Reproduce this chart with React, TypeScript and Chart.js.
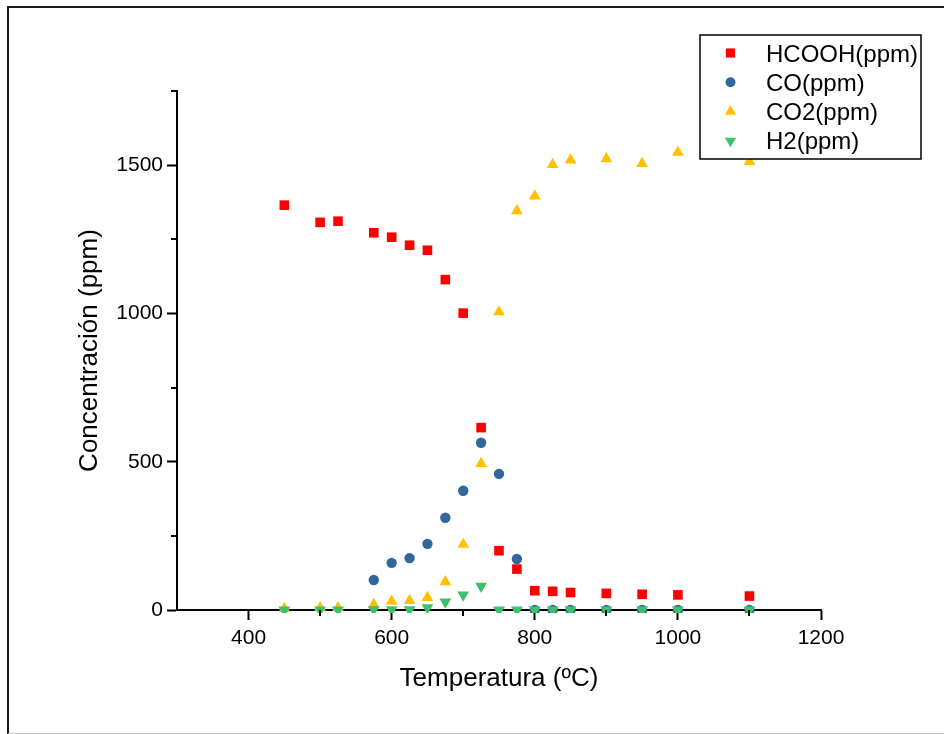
import React, { useEffect, useRef } from 'react';
import { Chart, registerables } from 'chart.js';

Chart.register(...registerables);

// ---- data ----
const hcoohX = [450, 500, 525, 575, 600, 625, 650, 675, 700, 725, 750, 775, 800, 825, 850, 900, 950, 1000, 1100];
const hcoohY = [1365, 1307, 1311, 1272, 1257, 1230, 1213, 1114, 1001, 615, 200, 138, 65, 63, 59, 56, 53, 51, 47];

const coX = [575, 600, 625, 650, 675, 700, 725, 750, 775, 800, 825, 850, 900, 950, 1000, 1100];
const coY = [101, 159, 175, 223, 311, 402, 564, 459, 172, 0, 0, 0, 0, 0, 0, 0];

const co2X = [450, 500, 525, 575, 600, 625, 650, 675, 700, 725, 750, 775, 800, 825, 850, 900, 950, 1000, 1100];
const co2Y = [5, 7, 7, 18, 29, 32, 42, 95, 221, 494, 1005, 1346, 1396, 1502, 1517, 1521, 1505, 1543, 1512];

const h2X = [450, 500, 525, 575, 600, 625, 650, 675, 700, 725, 750, 775, 800, 825, 850, 900, 950, 1000, 1100];
const h2Y = [0, 0, 0, 1, 1, 1, 8, 27, 51, 80, 0, 0, 0, 0, 0, 0, 0, 0, 0];

const seriesNames = ['HCOOH(ppm)', 'CO(ppm)', 'CO2(ppm)', 'H2(ppm)'];
const seriesColors = ['#FF0000', '#33669A', '#FFC000', '#3DC171'];

const xMajorTicks = [400, 600, 800, 1000, 1200];
const xMinorTicks = [500, 700, 900, 1100];
const yMajorTicks = [0, 500, 1000, 1500];
const yMinorTicks = [250, 750, 1250, 1750];

const xAxisTitle = 'Temperatura (ºC)';
const yAxisTitle = 'Concentración (ppm)';

const FONT = '"Liberation Sans", Arial, sans-serif';

const toPoints = (xs: number[], ys: number[]) => xs.map((x, i) => ({ x, y: ys[i] }));

function drawMarker(ctx: CanvasRenderingContext2D, kind: string, x: number, y: number, r: number, color: string) {
  ctx.save();
  ctx.fillStyle = color;
  ctx.beginPath();
  if (kind === 'rect') {
    const s = Math.SQRT1_2 * r;
    ctx.rect(x - s, y - s, 2 * s, 2 * s);
  } else if (kind === 'circle') {
    ctx.arc(x, y, r, 0, Math.PI * 2);
  } else {
    const dir = kind === 'down' ? -1 : 1;
    ctx.moveTo(x, y - dir * r);
    ctx.lineTo(x + 0.866 * r, y + dir * 0.5 * r);
    ctx.lineTo(x - 0.866 * r, y + dir * 0.5 * r);
    ctx.closePath();
  }
  ctx.fill();
  ctx.restore();
}

const markerKinds = ['rect', 'circle', 'up', 'down'];
const markerRadii = [6.8, 5.2, 6.8, 6.8];

const extrasPlugin = {
  id: 'extras',
  afterDraw(chart: any) {
    const ctx: CanvasRenderingContext2D = chart.ctx;
    const xs = chart.scales.x;
    const ys = chart.scales.y;
    const area = chart.chartArea;
    ctx.save();
    ctx.strokeStyle = '#000';
    ctx.lineWidth = 2;
    ctx.beginPath();
    xMinorTicks.forEach((v) => {
      const px = Math.round(xs.getPixelForValue(v));
      ctx.moveTo(px, area.bottom);
      ctx.lineTo(px, area.bottom + 6);
    });
    yMinorTicks.forEach((v) => {
      const py = Math.round(ys.getPixelForValue(v));
      ctx.moveTo(area.left - 6, py);
      ctx.lineTo(area.left, py);
    });
    ctx.stroke();

    // legend
    const bx = 700, by = 35, bw = 221, bh = 124;
    ctx.fillStyle = '#fff';
    ctx.fillRect(bx, by, bw, bh);
    ctx.lineWidth = 1.5;
    ctx.strokeStyle = '#000';
    ctx.strokeRect(bx, by, bw, bh);
    ctx.font = `24px ${FONT}`;
    ctx.textBaseline = 'alphabetic';
    ctx.textAlign = 'left';
    seriesNames.forEach((name, i) => {
      const cy = 53 + i * 29.3;
      drawMarker(ctx, markerKinds[i], 730.5, cy, markerRadii[i] * 0.95, seriesColors[i]);
      ctx.fillStyle = '#000';
      ctx.fillText(name, 766, cy + 8.5);
    });
    ctx.restore();
  },
};

export default function App() {
  const ref = useRef<HTMLCanvasElement | null>(null);

  useEffect(() => {
    if (!ref.current) return;
    const mk = (i: number, xs: number[], ys: number[], style: string, rotation: number, order: number) => ({
      label: seriesNames[i],
      data: toPoints(xs, ys),
      pointStyle: style,
      rotation,
      pointRadius: markerRadii[i],
      pointHoverRadius: markerRadii[i],
      pointBackgroundColor: seriesColors[i],
      pointBorderWidth: 0,
      borderColor: seriesColors[i],
      backgroundColor: seriesColors[i],
      showLine: false,
      order,
      clip: { left: 10, top: 10, right: 10, bottom: 3 },
    });
    const chart = new Chart(ref.current, {
      type: 'scatter',
      data: {
        datasets: [
          mk(0, hcoohX, hcoohY, 'rect', 0, 4),
          mk(1, coX, coY, 'circle', 0, 3),
          mk(2, co2X, co2Y, 'triangle', 0, 2),
          mk(3, h2X, h2Y, 'triangle', 180, 1),
        ] as any,
      },
      options: {
        responsive: false,
        devicePixelRatio: 1,
        animation: false,
        layout: { padding: { left: 0, right: 123, top: 91, bottom: 0 } },
        plugins: { legend: { display: false }, tooltip: { enabled: false } },
        scales: {
          x: {
            type: 'linear',
            min: 300,
            max: 1200,
            afterBuildTicks: (s: any) => {
              s.ticks = xMajorTicks.map((v) => ({ value: v }));
            },
            afterFit: (s: any) => {
              s.height = 124;
            },
            grid: { drawOnChartArea: false, drawTicks: true, tickLength: 10, tickWidth: 2, tickColor: '#000' },
            border: { display: true, color: '#000', width: 2 },
            ticks: {
              color: '#000',
              padding: 6,
              font: { family: FONT, size: 21 },
              maxRotation: 0,
              callback: (v: any) => String(v),
            },
            title: {
              display: true,
              text: xAxisTitle,
              color: '#000',
              font: { family: FONT, size: 26 },
              padding: { top: 0, bottom: 40 },
            },
          },
          y: {
            type: 'linear',
            min: 0,
            max: 1750,
            afterBuildTicks: (s: any) => {
              s.ticks = yMajorTicks.map((v) => ({ value: v }));
            },
            afterFit: (s: any) => {
              s.width = 177;
            },
            grid: { drawOnChartArea: false, drawTicks: true, tickLength: 10, tickWidth: 2, tickColor: '#000' },
            border: { display: true, color: '#000', width: 2 },
            ticks: {
              color: '#000',
              padding: 4,
              font: { family: FONT, size: 21 },
              callback: (v: any) => String(v),
            },
            title: {
              display: true,
              text: yAxisTitle,
              color: '#000',
              font: { family: FONT, size: 26 },
              padding: { top: 74, bottom: 0 },
            },
          },
        },
      } as any,
      plugins: [extrasPlugin],
    });
    return () => chart.destroy();
  }, []);

  return (
    <>
      <div
        style={{
          position: 'absolute',
          left: 7,
          top: 6,
          width: 937,
          height: 728,
          boxSizing: 'border-box',
          borderLeft: '2px solid #1a1a1a',
          borderTop: '2px solid #1a1a1a',
          borderBottom: '1px solid #c8c8c8',
          pointerEvents: 'none',
        }}
      />
      <canvas
        ref={ref}
        width={944}
        height={734}
        style={{ position: 'absolute', left: 0, top: 0, width: 944, height: 734, display: 'block' }}
      />
    </>
  );
}
